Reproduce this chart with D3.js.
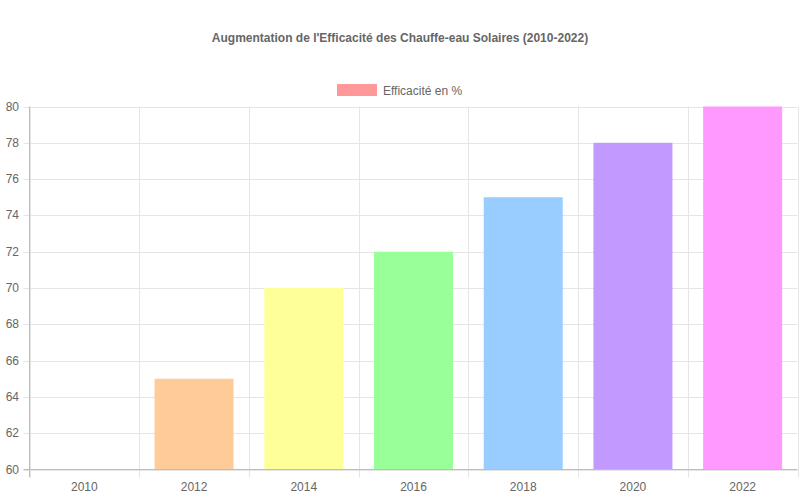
<!DOCTYPE html>
<html>
<head>
<meta charset="utf-8">
<script src="https://cdn.jsdelivr.net/npm/d3@7"></script>
<style>
body{margin:0;background:#fff;}
text{font-family:"Liberation Sans",Arial,sans-serif;}
</style>
</head>
<body>
<svg width="800" height="500"></svg>
<script>
'use strict';

//the data
var years = ['2010','2012','2014','2016','2018','2020','2022'];
var efficacite = [60, 65, 70, 72, 75, 78, 80];
var colors = ['#ff9999','#ffcc99','#ffff99','#99ff99','#99ccff','#c299ff','#ff99ff'];
var yTicks = [60,62,64,66,68,70,72,74,76,78,80];
var titleText = "Augmentation de l'Efficacité des Chauffe-eau Solaires (2010-2022)";
var legendLabel = 'Efficacité en %';

var svg = d3.select('svg');
var plotLeft = 29.5, plotRight = 797.5, plotTop = 106.5, plotBottom = 469.5;

var x = d3.scaleBand().domain(years).range([plotLeft, plotRight]);
var y = d3.scaleLinear().domain([60, 80]).range([plotBottom, plotTop]);

//title
svg.append('text')
  .attr('x', 400).attr('y', 42)
  .attr('text-anchor', 'middle')
  .attr('font-size', 12).attr('font-weight', 'bold')
  .attr('fill', '#666')
  .text(titleText);

//legend
svg.append('rect').attr('x', 337).attr('y', 84).attr('width', 40).attr('height', 12)
  .attr('fill', colors[0]);
svg.append('text').attr('x', 383).attr('y', 94.5)
  .attr('font-size', 12).attr('fill', '#666').text(legendLabel);

//horizontal grid
svg.append('g').selectAll('line').data(yTicks).enter().append('line')
  .attr('x1', plotLeft - 6).attr('x2', plotRight)
  .attr('y1', function(d){ return Math.round(y(d)) + 0.5; })
  .attr('y2', function(d){ return Math.round(y(d)) + 0.5; })
  .attr('stroke', '#e5e5e5');

//vertical grid (category boundaries)
var bounds = years.map(function(d){ return x(d); }).concat([plotRight]);
svg.append('g').selectAll('line').data(bounds).enter().append('line')
  .attr('x1', function(d){ return Math.round(d) + 0.5; })
  .attr('x2', function(d){ return Math.round(d) + 0.5; })
  .attr('y1', plotTop).attr('y2', plotBottom + 8)
  .attr('stroke', '#e5e5e5');

//bars
var bw = x.bandwidth() * 0.72;
svg.append('g').selectAll('rect').data(efficacite).enter().append('rect')
  .attr('x', function(d, i){ return x(years[i]) + (x.bandwidth() - bw) / 2; })
  .attr('y', function(d){ return y(d); })
  .attr('width', bw)
  .attr('height', function(d){ return plotBottom - y(d); })
  .attr('fill', function(d, i){ return colors[i]; });

//axis lines
svg.append('line').attr('x1', plotLeft).attr('x2', plotLeft).attr('y1', plotTop).attr('y2', plotBottom + 8)
  .attr('stroke', '#bdbdbd');
svg.append('line').attr('x1', plotLeft - 6).attr('x2', plotRight).attr('y1', plotBottom).attr('y2', plotBottom)
  .attr('stroke', '#bdbdbd');

//y labels
svg.append('g').selectAll('text').data(yTicks).enter().append('text')
  .attr('x', 19).attr('y', function(d){ return y(d) + 4; })
  .attr('text-anchor', 'end')
  .attr('font-size', 12).attr('fill', '#666')
  .text(function(d){ return d; });

//x labels
svg.append('g').selectAll('text').data(years).enter().append('text')
  .attr('x', function(d){ return x(d) + x.bandwidth() / 2; })
  .attr('y', 491)
  .attr('text-anchor', 'middle')
  .attr('font-size', 12).attr('fill', '#666')
  .text(function(d){ return d; });
</script>
</body>
</html>
